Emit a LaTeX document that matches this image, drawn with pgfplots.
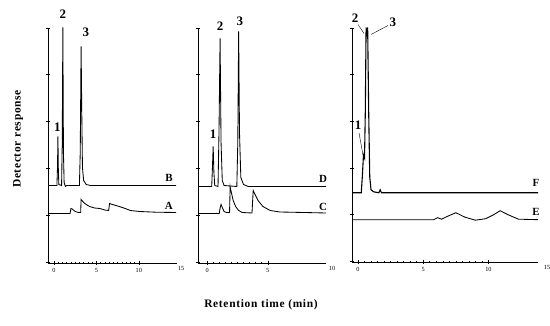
\documentclass[border=0pt]{standalone}
\usepackage{fontspec}
\setmainfont{Liberation Serif}
\usepackage{pgfplots}
\pgfplotsset{compat=1.18}
\newcommand{\tickfont}{\fontsize{6.3}{7}\selectfont}
\newcommand{\pkfont}{\fontsize{13}{13}\selectfont\bfseries}
\newcommand{\trfont}{\fontsize{11}{11}\selectfont\bfseries}
\newcommand{\labfont}{\fontsize{11.5}{12}\selectfont\bfseries\addfontfeatures{LetterSpace=6}}
\pgfplotsset{chrom/.style={
  scale only axis, height=235bp, ymin=-0.5, ymax=234.5,
  axis lines=left, axis line style={-, line width=0.7pt},
  ytick={0,47,94,141,188,234}, yticklabels={},
  tick align=center, major tick length=3.5bp, minor tick length=1.8bp,
  minor x tick num=9,
  tick style={black, line width=0.5pt},
  xticklabel style={font=\tickfont},
  /pgf/number format/assume math mode=true,
  clip=false,
}, trace/.style={black, line width=0.85pt, mark=none}}
\begin{document}
\begin{tikzpicture}
\useasboundingbox (0,0) rectangle (550bp,326bp);
% Panel 1
\begin{axis}[chrom, at={(48bp,63bp)}, anchor=south west, width=129bp,
  xmin=-0.7, xmax=14.5, xtick={0,5,10}]
\addplot[trace] coordinates {(-0.7,77) (0.35,77) (0.42,95) (0.47,126) (0.52,92) (0.58,78) (0.9,77) (0.98,120) (1.05,235) (1.12,110) (1.2,80) (1.35,76) (1.5,77) (3.0,77) (3.1,110) (3.2,216) (3.28,150) (3.36,95) (3.5,82) (3.8,78) (4.3,77) (14.4,77)};
\addplot[trace] coordinates {(-0.7,49) (1.9,49) (2.0,54) (2.15,53.5) (2.5,51) (2.9,50) (3.15,50) (3.2,63) (3.5,60) (3.8,58) (4.2,56) (4.8,54.5) (5.4,54) (6.0,52.5) (6.45,52) (6.55,59) (6.9,58) (7.7,56) (8.4,54) (9.0,52) (10.1,51) (12,50.3) (14.4,50)};
\node[font=\pkfont, anchor=south] at (axis cs:0.4,127) {1};
\node[font=\pkfont] at (axis cs:1.05,248) {2};
\node[font=\pkfont] at (axis cs:3.77,230) {3};
\node[font=\trfont] at (axis cs:13.55,85) {B};
\node[font=\trfont] at (axis cs:13.55,57) {A};
\node[font=\tickfont, anchor=north, inner sep=0.333em] at (axis cs:15,-0.5) {15};
\end{axis}
% Panel 2
\begin{axis}[chrom, at={(198bp,63bp)}, anchor=south west, width=128bp,
  xmin=-0.75, xmax=9.8, xtick={0,5}]
\addplot[trace] coordinates {(-0.75,76) (0.38,76) (0.44,95) (0.5,116) (0.56,90) (0.63,77) (0.9,76) (0.98,130) (1.07,224) (1.15,120) (1.25,82) (1.4,77) (2.45,76) (2.53,120) (2.6,231) (2.67,130) (2.78,85) (3.0,78) (3.4,76) (9.8,76)};
\addplot[trace] coordinates {(-0.75,49) (1.0,49) (1.08,55) (1.15,58) (1.25,55) (1.4,51) (1.6,50) (1.85,50) (1.9,76) (2.0,70) (2.15,62) (2.35,56) (2.6,52) (2.9,50) (3.7,49.5) (3.8,72) (3.95,68) (4.2,62) (4.6,56) (5.2,52) (6.0,50.5) (8.0,50) (9.8,49.5)};
\node[font=\pkfont] at (axis cs:0.5,128) {1};
\node[font=\pkfont] at (axis cs:1.07,236) {2};
\node[font=\pkfont] at (axis cs:2.7,241) {3};
\node[font=\trfont] at (axis cs:9.56,84) {D};
\node[font=\trfont] at (axis cs:9.56,56) {C};
\node[font=\tickfont, anchor=north, inner sep=0.333em] at (axis cs:10.3,-0.5) {10};
\end{axis}
% Panel 3
\begin{axis}[chrom, at={(352bp,64bp)}, anchor=south west, width=186bp, height=234bp,
  xmin=-0.46, xmax=13.8, xtick={0,5,10}]
\addplot[trace, line width=1.1pt] coordinates {(-0.46,69) (0.25,69) (0.33,85) (0.42,107) (0.5,104) (0.56,150) (0.62,235) (0.68,226) (0.74,235) (0.82,150) (0.9,85) (1.0,72) (1.2,70) (1.6,69) (1.7,72) (1.8,69) (13.8,69)};
\addplot[trace] coordinates {(-0.46,42) (5.8,42) (6.1,44) (6.4,42.5) (6.8,45) (7.5,49) (8.2,44.5) (9.0,41.5) (9.8,43) (10.4,47) (10.9,51) (11.5,47) (12.3,42.5) (13.8,42)};
\node[font=\pkfont] at (axis cs:-0.23,244) {2};
\node[font=\pkfont] at (axis cs:2.68,240) {3};
\node[font=\pkfont] at (axis cs:0,137) {1};
\draw[line width=0.4pt] (axis cs:0,238) -- (axis cs:0.46,229);
\draw[line width=0.4pt] (axis cs:2.3,237) -- (axis cs:1.0,228);
\draw[line width=0.4pt] (axis cs:0.08,129) -- (axis cs:0.38,107);
\node[font=\trfont] at (axis cs:13.65,79) {F};
\node[font=\trfont] at (axis cs:13.65,50) {E};
\node[font=\tickfont, anchor=north, inner sep=0.333em] at (axis cs:14.5,-0.5) {15};
\end{axis}
\node[rotate=90, font=\labfont] at (18bp,187bp) {Detector response};
\node[font=\labfont] at (261bp,21bp) {Retention time (min)};
\end{tikzpicture}
\end{document}
